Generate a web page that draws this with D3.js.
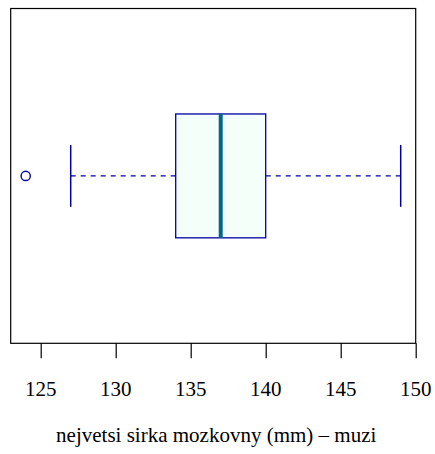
<!DOCTYPE html>
<html><head><meta charset="utf-8">
<script src="https://cdn.jsdelivr.net/npm/d3@7"></script>
</head><body style="margin:0;background:#fff">
<div id="chart" style="position:relative;width:435px;height:454px"></div>
<script>
// data (boxplot statistics)
const outliers = [124];
const whiskerLow = [127];
const quartile1 = [134];
const median = [137];
const quartile3 = [140];
const whiskerHigh = [149];
const tickValues = [125, 130, 135, 140, 145, 150];
const xLabel = "nejvetsi sirka mozkovny (mm) \u2013 muzi";

(function () {
const W = 435, H = 454;
const pL = 10.7, pR = 415.7, pT = 8.5, pB = 343.3;
const FONT = '"Liberation Serif", "Times New Roman", Tinos';
const root = d3.select("#chart");
const svg = root.append("svg").attr("width", W).attr("height", H)
  .style("display", "block").style("position", "absolute").style("left", "0px").style("top", "0px");

const x = d3.scaleLinear().domain([123, 150]).range([pL, pR]);
const y = d3.scaleLinear().domain([0.5, 1.5]).range([pB, pT]);

const boxHalf = 0.185, stapleHalf = 0.0925;
const navy = "#0000A0";
const g = svg.append("g");
const i = 0, c = 1;

g.append("line").attr("x1", x(whiskerLow[i])).attr("x2", x(quartile1[i]))
  .attr("y1", y(c)).attr("y2", y(c)).attr("stroke", navy).attr("stroke-width", 1.3).attr("stroke-dasharray", "5,5");
g.append("line").attr("x1", x(quartile3[i])).attr("x2", x(whiskerHigh[i]))
  .attr("y1", y(c)).attr("y2", y(c)).attr("stroke", navy).attr("stroke-width", 1.3).attr("stroke-dasharray", "5,5");
[whiskerLow[i], whiskerHigh[i]].forEach(v => {
  g.append("line").attr("x1", x(v)).attr("x2", x(v))
    .attr("y1", y(c + stapleHalf)).attr("y2", y(c - stapleHalf))
    .attr("stroke", navy).attr("stroke-width", 1.5);
});
g.append("rect").attr("x", x(quartile1[i])).attr("width", x(quartile3[i]) - x(quartile1[i]))
  .attr("y", y(c + boxHalf)).attr("height", y(c - boxHalf) - y(c + boxHalf))
  .attr("fill", "#F5FFFA").attr("stroke", navy).attr("stroke-width", 1.3);
g.append("line").attr("x1", x(median[i])).attr("x2", x(median[i]))
  .attr("y1", y(c + boxHalf)).attr("y2", y(c - boxHalf))
  .attr("stroke", "#00688B").attr("stroke-width", 4);
g.selectAll("circle.out").data(outliers).enter().append("circle")
  .attr("cx", d => x(d)).attr("cy", y(c)).attr("r", 4.6)
  .attr("fill", "none").attr("stroke", navy).attr("stroke-width", 1.4);

svg.append("rect").attr("x", pL).attr("y", pT).attr("width", pR - pL).attr("height", pB - pT)
  .attr("fill", "none").attr("stroke", "#000").attr("stroke-width", 1.2);

const axis = d3.axisBottom(x).tickValues(tickValues).tickSize(15).tickFormat("").tickSizeOuter(0);
const ax = svg.append("g").attr("transform", `translate(0,${pB})`).call(axis);
ax.select(".domain").remove();
ax.selectAll(".tick line").attr("stroke", "#000").attr("stroke-width", 1.2);

// text as HTML overlay
root.selectAll("div.tl").data(tickValues).enter().append("div").attr("class", "tl")
  .style("position", "absolute").style("left", d => (x(d) - 40) + "px").style("width", "80px")
  .style("top", "377px").style("text-align", "center")
  .style("font-family", FONT).style("font-size", "21px").style("line-height", "24px").style("color", "#000")
  .text(d => d);

root.append("div")
  .style("position", "absolute").style("left", "0px").style("width", (pL + pR + 6) + "px")
  .style("top", "423px").style("text-align", "center").style("white-space", "nowrap")
  .style("font-family", FONT).style("font-size", "21px").style("line-height", "24px").style("color", "#000")
  .text(xLabel);
})();
</script>
</body></html>
